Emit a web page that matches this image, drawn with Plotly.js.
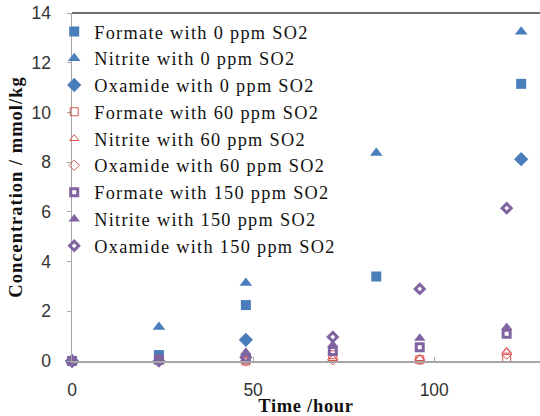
<!DOCTYPE html>
<html><head><meta charset="utf-8">
<script src="https://cdn.plot.ly/plotly-3.0.1.min.js"></script>
<style>
html,body{margin:0;padding:0;overflow:hidden;background:#fff}
.legendtext{letter-spacing:1.3px}
.ytitle{letter-spacing:1px}
.xtitle{letter-spacing:0.7px}
</style>
</head><body><div id="chart" style="width:540px;height:416px"></div>
<script>
// hours
var hours0 = [0, 24, 48, 84, 124];
var hours60 = [0, 48, 72, 96, 120];
var hours150 = [0, 24, 48, 72, 96, 120];
var oxHours0 = [0, 48, 124];

// 0 ppm SO2
var formate0 = [0, 0.24, 2.25, 3.4, 11.15];
var nitrite0 = [0, 1.37, 3.14, 8.37, 13.25];
var oxamide0 = [0, 0.85, 8.12];
// 60 ppm SO2
var formate60 = [0, 0, 0.25, 0.05, 0.1];
var nitrite60 = [0, 0, 0.1, 0.1, 0.4];
var oxamide60 = [0, 0, 0.05, 0.05, 0.28];
// 150 ppm SO2
var formate150 = [0, 0.05, 0.1, 0.4, 0.55, 1.1];
var nitrite150 = [0, 0, 0.35, 0.65, 0.92, 1.35];
var oxamide150 = [0, 0, 0.15, 0.97, 2.9, 6.15];

var names = ["Formate with 0 ppm SO2","Nitrite with 0 ppm SO2","Oxamide with 0 ppm SO2",
  "Formate with 60 ppm SO2","Nitrite with 60 ppm SO2","Oxamide with 60 ppm SO2",
  "Formate with 150 ppm SO2","Nitrite with 150 ppm SO2","Oxamide with 150 ppm SO2"];

var blue = "#4a7ebb", red = "#d9534f", purple = "#8064a2";

function tr(x, y, name, symbol, color, size, lw) {
  return {x: x, y: y, name: name, type: "scatter", mode: "markers", cliponaxis: false,
    marker: {symbol: symbol, color: color, size: size, line: {color: color, width: lw}}};
}
var data = [
  tr(hours0, formate0, names[0], "square", blue, 10, 0),
  tr(hours0, nitrite0, names[1], "triangle-up", blue, 11, 0),
  tr(oxHours0, oxamide0, names[2], "diamond", blue, 11, 0),
  tr(hours60, formate60, names[3], "square-open", red, 8, 1),
  tr(hours60, nitrite60, names[4], "triangle-up-open", red, 8, 1),
  tr(hours60, oxamide60, names[5], "diamond-open", red, 8, 1),
  tr(hours150, formate150, names[6], "square-open", purple, 7, 3),
  tr(hours150, nitrite150, names[7], "triangle-up", purple, 10, 0),
  tr(hours150, oxamide150, names[8], "diamond-open", purple, 7, 3)
];

var layout = {
  width: 540, height: 416,
  margin: {l: 71.5, r: 0, t: 13, b: 55},
  paper_bgcolor: "#fff", plot_bgcolor: "#fff",
  showlegend: true,
  legend: {x: -0.038, xanchor: "left", y: 1.0, yanchor: "top", bgcolor: "rgba(0,0,0,0)",
    font: {family: "Liberation Serif", size: 18.3, color: "#111"}, tracegroupgap: 0},
  xaxis: {range: [0, 129.2], tickvals: [0, 50, 100], showgrid: false, zeroline: false,
    showline: true, linecolor: "#a6a6a6", linewidth: 1.5,
    ticks: "inside", ticklen: 4, tickcolor: "#a6a6a6", ticklabelstandoff: 12,
    tickfont: {family: "Liberation Sans", size: 17.5, color: "#333"},
    title: {text: "Time /hour", standoff: 0, font: {family: "Liberation Serif", size: 18.5, color: "#111", weight: "bold"}}},
  yaxis: {range: [0, 14], dtick: 2, showgrid: false, zeroline: false,
    showline: true, linecolor: "#a6a6a6", linewidth: 1.5,
    ticks: "outside", ticklen: 4, tickcolor: "#a6a6a6", ticklabelstandoff: 12,
    tickfont: {family: "Liberation Sans", size: 17.5, color: "#333"},
    title: {text: "Concentration / mmol/kg", standoff: 4, font: {family: "Liberation Serif", size: 18.5, color: "#111", weight: "bold"}}},
  shapes: [{type: "line", xref: "paper", yref: "paper", x0: 0, x1: 1, y0: 1, y1: 1,
    line: {color: "#404040", width: 1.5}}]
};
Plotly.newPlot("chart", data, layout, {displayModeBar: false, staticPlot: true});
</script></body></html>
